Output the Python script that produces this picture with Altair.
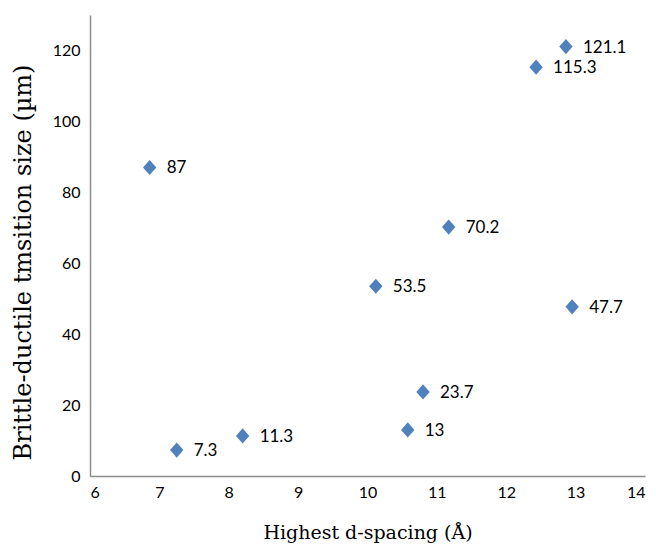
import altair as alt
import pandas as pd

# Highest d-spacing (Å) and brittle-ductile transition size (µm)
d_spacing = [6.86, 7.25, 8.20, 10.12, 10.58, 10.80, 11.17, 12.43, 12.86, 12.95]
transition = [87.0, 7.3, 11.3, 53.5, 13.0, 23.7, 70.2, 115.3, 121.1, 47.7]
labels = ["87", "7.3", "11.3", "53.5", "13", "23.7", "70.2", "115.3", "121.1", "47.7"]

x_ticks = [6, 7, 8, 9, 10, 11, 12, 13, 14]
y_ticks = [0, 20, 40, 60, 80, 100, 120]

df = pd.DataFrame({"d": d_spacing, "size": transition, "label": labels})

x_enc = alt.X(
    "d:Q",
    scale=alt.Scale(domain=[6, 14], nice=False, zero=False),
    axis=alt.Axis(
        values=x_ticks, format="d", title="Highest d-spacing (Å)", grid=False, ticks=False,
        domainColor="#8c8c8c", domainWidth=1.5,
        labelFont="Lato", labelFontSize=16, labelColor="#000000", labelPadding=8,
        titleFont="DejaVu Serif", titleFontSize=19, titleFontWeight="normal",
        titleColor="#000000", titlePadding=23,
    ),
)
y_enc = alt.Y(
    "size:Q",
    scale=alt.Scale(domain=[0, 130], nice=False),
    axis=alt.Axis(
        values=y_ticks, title="Brittle-ductile tmsition size (µm)", grid=False, ticks=False,
        domainColor="#8c8c8c", domainWidth=1.5,
        labelFont="Lato", labelFontSize=16, labelColor="#000000", labelPadding=10,
        titleFont="DejaVu Serif", titleFontSize=24, titleFontWeight="normal",
        titleColor="#000000", titlePadding=17, titleY=247,
    ),
)

points = alt.Chart(df).mark_point(
    shape="M-0.88,0L0,-1L0.88,0L0,1Z", filled=True, color="#4F81BD", size=230, opacity=1
).encode(x=x_enc, y=y_enc)

text = alt.Chart(df).mark_text(
    align="left", baseline="middle", dx=17, dy=1,
    font="Lato", fontSize=17, color="#000000"
).encode(x="d:Q", y="size:Q", text="label:N")

chart = (points + text).properties(
    width=555, height=461,
    autosize=alt.AutoSizeParams(type="none"),
    padding={"left": 90, "top": 15, "right": 11, "bottom": 75},
    background="white",
).configure_view(stroke=None)

chart.save("out.html", embed_options={"renderer": "svg", "actions": False})
